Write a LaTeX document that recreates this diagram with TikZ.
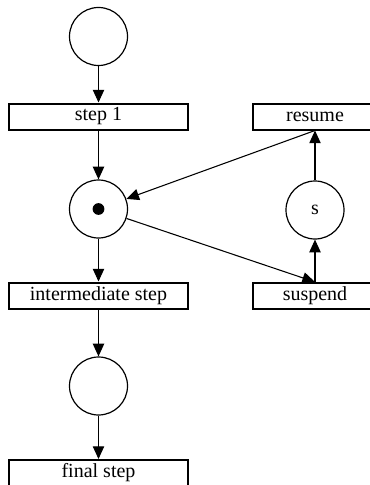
\documentclass[tikz,border=0pt]{standalone}
\usepackage{fontspec}
\setmainfont{Liberation Serif}
\usetikzlibrary{arrows.meta}
\tikzset{
  place/.style={circle,draw,line width=0.9pt,minimum size=43.5pt,inner sep=0pt},
  trans/.style={rectangle,draw,line width=1.5pt,minimum width=134pt,minimum height=19.5pt,inner sep=0pt},
  sidetrans/.style={trans,minimum width=93pt},
  flow/.style={-{Triangle[length=9.5pt,width=8.5pt]},line width=0.8pt},
}
\newcommand{\Token}[1]{%
\fill (#1) circle (4.4pt);
}

\begin{document}
\begin{tikzpicture}[x=0.75pt,y=-0.75pt,font=\fontsize{15}{18}\selectfont]
\useasboundingbox (0,0) rectangle (370,485);
\clip (0,0) rectangle (370,485);
% main line
\node[place] (p0) at (98.5,36.5) {};
\node[trans] (t1) at (98.5,116.5) {step 1};
\node[place] (p1) at (98.5,209) {};
\node[trans] (t2) at (98.5,295.5) {intermediate step};
\node[place] (p2) at (98.5,386) {};
\node[trans] (t3) at (98.5,473) {final step};
\Token{p1}
% suspend / resume loop
\node[sidetrans] (resume) at (315,116.5) {resume};
\node[place] (s) at (315,210) {s};
\node[sidetrans] (suspend) at (315,296) {suspend};
% arcs
\draw[flow] (p0) -- (t1);
\draw[flow] (t1) -- (p1);
\draw[flow] (p1) -- (t2);
\draw[flow] (t2) -- (p2);
\draw[flow] (p2) -- (t3);
\draw[flow] (p1) -- (suspend.north);
\draw[flow] (suspend) -- (s);
\draw[flow] (s) -- (resume);
\draw[flow] (resume.south) -- (p1);
\end{tikzpicture}
\end{document}
